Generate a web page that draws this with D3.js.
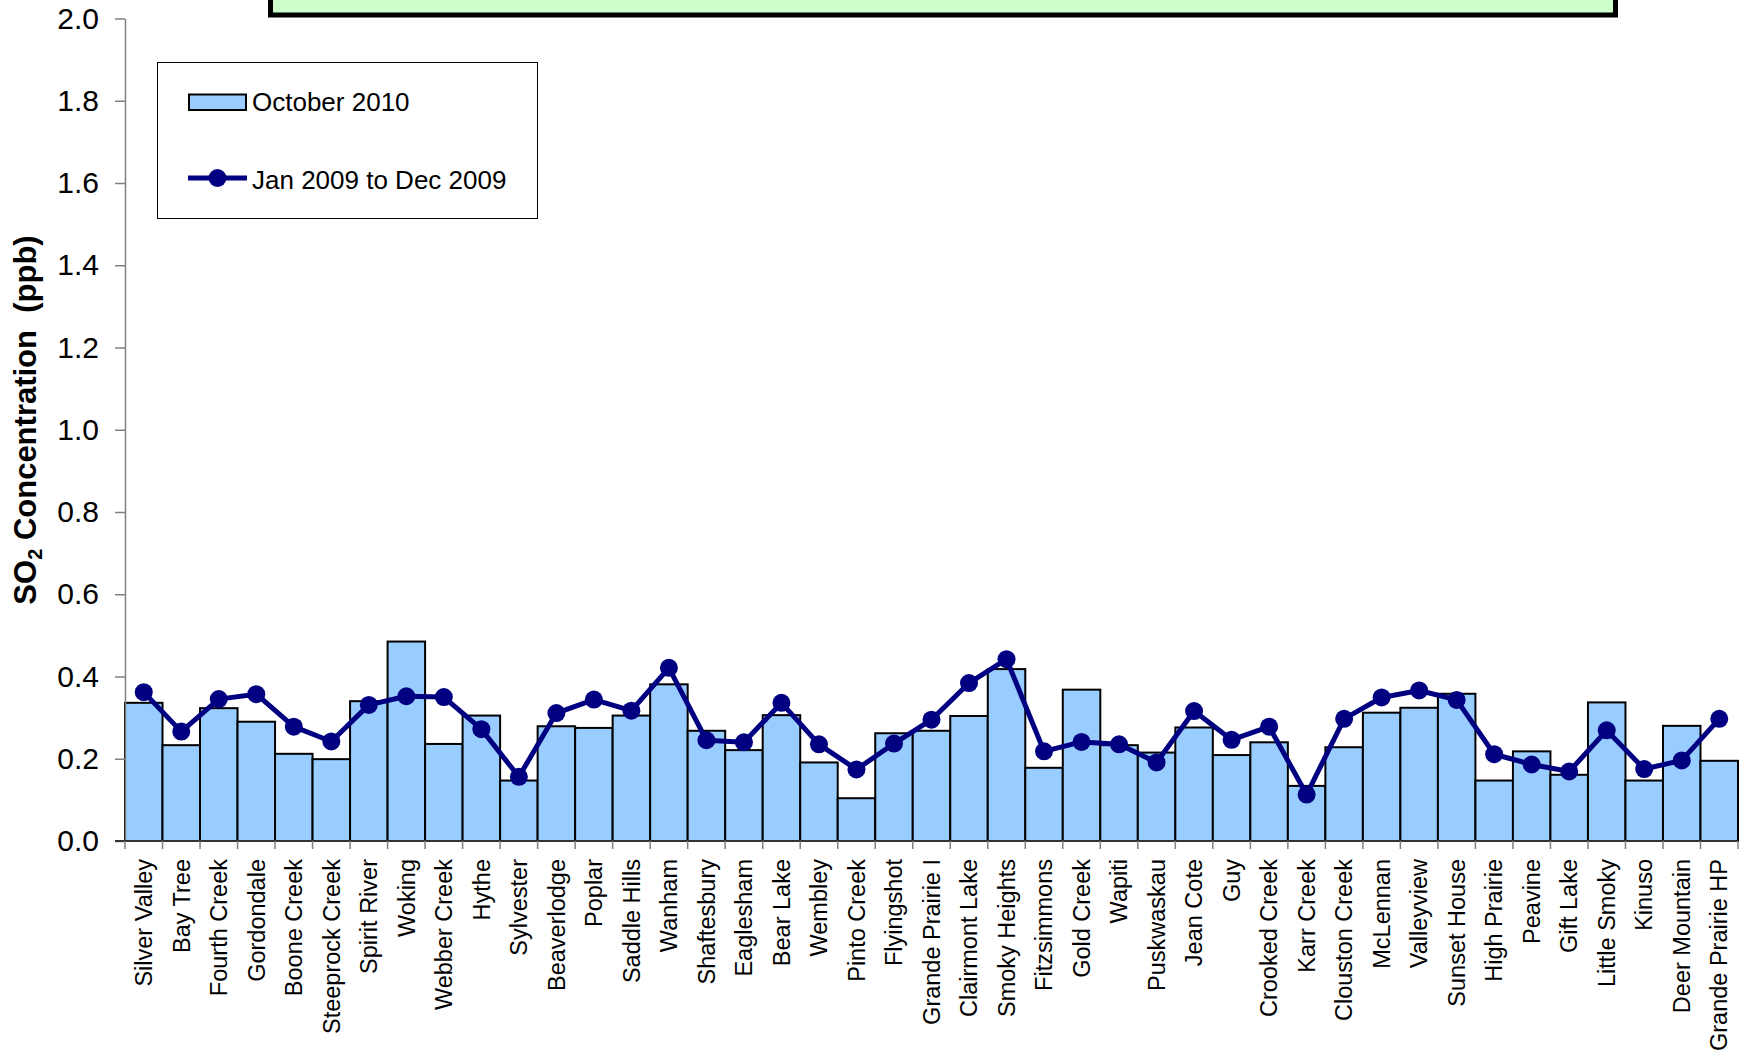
<!DOCTYPE html>
<html>
<head>
<meta charset="utf-8">
<script src="https://cdn.jsdelivr.net/npm/d3@7"></script>
<style>
  html, body { margin: 0; padding: 0; background: #ffffff; }
  svg { display: block; font-family: "Liberation Sans", Arial, sans-serif; }
</style>
</head>
<body>
<svg id="chart" width="1743" height="1055"></svg>
<script>
// Monitoring stations along the x axis
const stations = [
  "Silver Valley", "Bay Tree", "Fourth Creek", "Gordondale", "Boone Creek",
  "Steeprock Creek", "Spirit River", "Woking", "Webber Creek", "Hythe",
  "Sylvester", "Beaverlodge", "Poplar", "Saddle Hills", "Wanham",
  "Shaftesbury", "Eaglesham", "Bear Lake", "Wembley", "Pinto Creek",
  "Flyingshot", "Grande Prairie I", "Clairmont Lake", "Smoky Heights", "Fitzsimmons",
  "Gold Creek", "Wapiti", "Puskwaskau", "Jean Cote", "Guy",
  "Crooked Creek", "Karr Creek", "Clouston Creek", "McLennan", "Valleyview",
  "Sunset House", "High Prairie", "Peavine", "Gift Lake", "Little Smoky",
  "Kinuso", "Deer Mountain", "Grande Prairie HP"
];

// Monthly mean SO2 (ppb), October 2010
const october2010 = [
  0.336, 0.233, 0.323, 0.290, 0.212,
  0.199, 0.340, 0.485, 0.236, 0.305,
  0.147, 0.279, 0.275, 0.305, 0.381,
  0.268, 0.221, 0.306, 0.191, 0.104,
  0.262, 0.268, 0.304, 0.418, 0.178,
  0.368, 0.233, 0.215, 0.276, 0.209,
  0.240, 0.134, 0.228, 0.312, 0.324,
  0.358, 0.147, 0.218, 0.161, 0.337,
  0.147, 0.280, 0.195
];

// Annual mean SO2 (ppb), Jan 2009 to Dec 2009
const year2009 = [
  0.362, 0.266, 0.345, 0.357, 0.278,
  0.242, 0.331, 0.352, 0.350, 0.272,
  0.156, 0.311, 0.344, 0.317, 0.421,
  0.245, 0.240, 0.336, 0.235, 0.174,
  0.237, 0.295, 0.384, 0.442, 0.218,
  0.241, 0.235, 0.191, 0.316, 0.246,
  0.278, 0.113, 0.297, 0.349, 0.366,
  0.343, 0.211, 0.186, 0.169, 0.269,
  0.175, 0.196, 0.297
];

const yTicks = [0, 0.2, 0.4, 0.6, 0.8, 1.0, 1.2, 1.4, 1.6, 1.8, 2.0];
const seriesNames = ["October 2010", "Jan 2009 to Dec 2009"];

const svg = d3.select("#chart");

const plot = { left: 125, right: 1738, top: 18.5, bottom: 841 };

const x = d3.scaleBand()
  .domain(stations)
  .range([plot.left, plot.right])
  .padding(0);

const y = d3.scaleLinear()
  .domain([0, 2])
  .range([plot.bottom, plot.top]);

// Title panel, mostly above the visible area
svg.append("rect")
  .attr("x", 270.5)
  .attr("y", -60)
  .attr("width", 1345)
  .attr("height", 75)
  .attr("fill", "#CCFFCC")
  .attr("stroke", "#000000")
  .attr("stroke-width", 5);

// Bars
svg.append("g")
  .selectAll("rect")
  .data(stations)
  .join("rect")
  .attr("x", d => x(d))
  .attr("y", (d, i) => y(october2010[i]))
  .attr("width", x.bandwidth())
  .attr("height", (d, i) => y(0) - y(october2010[i]))
  .attr("fill", "#99CCFF")
  .attr("stroke", "#000000")
  .attr("stroke-width", 2);

// Y axis
const yAxis = svg.append("g")
  .attr("transform", `translate(${plot.left},0)`)
  .call(d3.axisLeft(y)
    .tickValues(yTicks)
    .tickFormat(d3.format(".1f"))
    .tickSize(10)
    .tickSizeOuter(0)
    .tickPadding(16));
yAxis.select(".domain").attr("stroke", "#808080").attr("stroke-width", 1.5);
yAxis.selectAll(".tick line").attr("stroke", "#808080").attr("stroke-width", 1.5);
yAxis.selectAll(".tick text")
  .attr("font-size", 30)
  .attr("fill", "#000000")
  .attr("font-family", "Liberation Sans, Arial, sans-serif");

// X axis baseline and category boundary ticks
const xAxis = svg.append("g")
  .attr("transform", `translate(0,${plot.bottom})`)
  .call(d3.axisBottom(x).tickSize(0).tickSizeOuter(0).tickPadding(0));
xAxis.select(".domain").attr("stroke", "#333333").attr("stroke-width", 2)
  .attr("d", `M${plot.left - 10},0H${plot.right}`);
xAxis.selectAll(".tick text")
  .attr("font-size", 23.5)
  .attr("fill", "#000000")
  .attr("font-family", "Liberation Sans, Arial, sans-serif")
  .attr("text-anchor", "end")
  .attr("transform", "rotate(-90)")
  .attr("x", -18)
  .attr("y", 0)
  .attr("dy", "0.35em");

const bounds = stations.map(d => x(d)).concat([x.range()[1]]);
xAxis.append("g")
  .selectAll("line")
  .data(bounds)
  .join("line")
  .attr("x1", d => d)
  .attr("x2", d => d)
  .attr("y1", 0)
  .attr("y2", 8)
  .attr("stroke", "#808080")
  .attr("stroke-width", 1.5);

// 2009 annual mean line with markers
const line = d3.line()
  .x((d, i) => x(stations[i]) + x.bandwidth() / 2)
  .y(d => y(d));

svg.append("path")
  .datum(year2009)
  .attr("d", line)
  .attr("fill", "none")
  .attr("stroke", "#000080")
  .attr("stroke-width", 5)
  .attr("stroke-linejoin", "round");

svg.append("g")
  .selectAll("circle")
  .data(year2009)
  .join("circle")
  .attr("cx", (d, i) => x(stations[i]) + x.bandwidth() / 2)
  .attr("cy", d => y(d))
  .attr("r", 9)
  .attr("fill", "#000080");

// Y axis title
const yTitle = svg.append("text")
  .attr("transform", "translate(36,420) rotate(-90)")
  .attr("text-anchor", "middle")
  .attr("font-size", 31)
  .attr("font-weight", "bold")
  .attr("fill", "#000000")
  .style("white-space", "pre");
yTitle.append("tspan").text("SO");
yTitle.append("tspan").attr("font-size", 20).attr("dy", 6).text("2");
yTitle.append("tspan").attr("dy", -6).text(" Concentration  (ppb)");

// Legend
const legend = svg.append("g");
legend.append("rect")
  .attr("x", 157.5)
  .attr("y", 62.5)
  .attr("width", 380)
  .attr("height", 156)
  .attr("fill", "#ffffff")
  .attr("stroke", "#000000")
  .attr("stroke-width", 1);

legend.append("rect")
  .attr("x", 189)
  .attr("y", 94.5)
  .attr("width", 57)
  .attr("height", 15.5)
  .attr("fill", "#99CCFF")
  .attr("stroke", "#000000")
  .attr("stroke-width", 2);
legend.append("text")
  .attr("x", 252)
  .attr("y", 111)
  .attr("font-size", 26)
  .attr("fill", "#000000")
  .text(seriesNames[0]);

legend.append("line")
  .attr("x1", 188).attr("x2", 247)
  .attr("y1", 178).attr("y2", 178)
  .attr("stroke", "#000080")
  .attr("stroke-width", 5);
legend.append("circle")
  .attr("cx", 217.5)
  .attr("cy", 178)
  .attr("r", 9)
  .attr("fill", "#000080");
legend.append("text")
  .attr("x", 252)
  .attr("y", 189)
  .attr("font-size", 26)
  .attr("fill", "#000000")
  .text(seriesNames[1]);
</script>
</body>
</html>
